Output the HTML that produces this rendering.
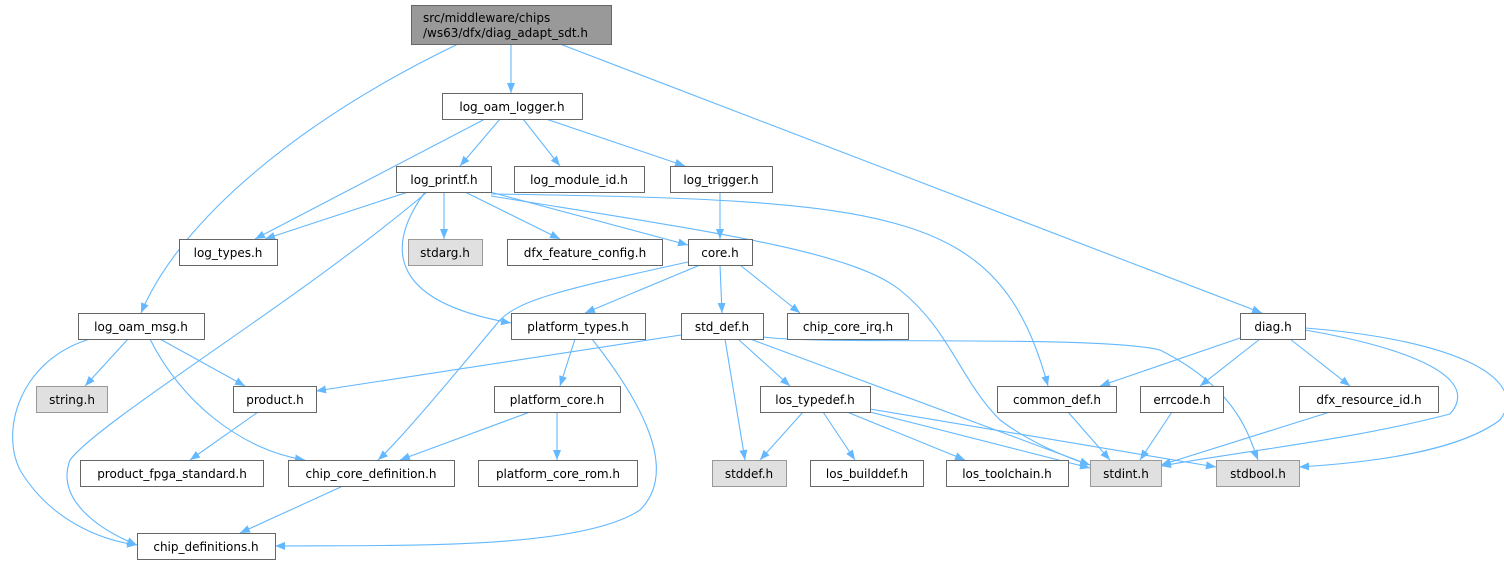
<!DOCTYPE html>
<html><head><meta charset="utf-8"><style>
body{margin:0;background:#fff;width:1504px;height:564px;overflow:hidden}
svg text{font-family:"DejaVu Sans","Liberation Sans",sans-serif;font-size:12px;fill:#000}
</style></head><body>
<svg width="1504" height="564" xmlns="http://www.w3.org/2000/svg">
<defs><marker id="a" markerWidth="11" markerHeight="8" refX="10" refY="4" orient="auto" markerUnits="userSpaceOnUse"><path d="M0,0 L10,4 L0,8 z" fill="#63b8ff"/></marker></defs>
<g fill="none" stroke="#63b8ff" stroke-width="1.1" marker-end="url(#a)">
<path d="M511,44 L511,93"/>
<path d="M458,44 C300,120 180,220 141,313"/>
<path d="M560,44 L1262,313"/>
<path d="M485,119 L255,239"/>
<path d="M500,119 L460,166"/>
<path d="M523,119 L560,166"/>
<path d="M546,119 L685,166"/>
<path d="M408,192 L265,239"/>
<path d="M427,192 C300,300 100,420 70,460 C55,500 100,530 137,545"/>
<path d="M425,192 C390,240 380,300 511,323"/>
<path d="M444,192 L444,239"/>
<path d="M465,192 L560,239"/>
<path d="M490,192 L688,245"/>
<path d="M491,194 C900,200 1000,210 1048,386"/>
<path d="M491,196 C700,230 850,250 900,290 C950,330 960,380 1000,420 C1040,450 1090,465 1090,465"/>
<path d="M720,192 L720,239"/>
<path d="M688,262 C560,290 520,300 500,320 C450,380 400,440 378,460"/>
<path d="M700,265 L585,313"/>
<path d="M720,265 L722,313"/>
<path d="M740,265 L800,313"/>
<path d="M128,339 L85,386"/>
<path d="M160,339 L245,386"/>
<path d="M150,339 C180,400 240,450 305,460"/>
<path d="M90,339 C20,360 0,430 20,470 C50,520 100,540 137,545"/>
<path d="M575,339 L560,386"/>
<path d="M592,339 C640,400 680,470 640,510 C580,550 400,545 275,546"/>
<path d="M681,335 L316,391"/>
<path d="M725,339 L745,460"/>
<path d="M738,339 L790,386"/>
<path d="M750,339 L1090,465"/>
<path d="M763,337 C820,345 1100,335 1160,350 C1240,390 1250,440 1258,460"/>
<path d="M530,412 L400,460"/>
<path d="M557,412 L557,460"/>
<path d="M258,412 L190,460"/>
<path d="M343,486 L240,533"/>
<path d="M803,412 L760,460"/>
<path d="M823,412 L855,460"/>
<path d="M847,412 L965,460"/>
<path d="M870,412 L1090,468"/>
<path d="M870,409 L1216,467"/>
<path d="M1068,412 L1110,460"/>
<path d="M1172,412 L1140,460"/>
<path d="M1330,412 L1161,465"/>
<path d="M1243,337 L1100,386"/>
<path d="M1260,339 L1200,386"/>
<path d="M1290,339 L1350,386"/>
<path d="M1305,330 C1420,350 1480,380 1450,414 C1350,440 1250,450 1161,466"/>
<path d="M1305,328 C1460,340 1530,380 1500,420 C1460,450 1380,462 1299,467"/>
</g>
<g stroke="#666" stroke-width="1">
<rect x="411.5" y="5.5" width="200" height="39" fill="#999"/>
<g fill="#fff">
<rect x="442.5" y="93.5" width="140" height="26"/>
<rect x="396.5" y="166.5" width="95" height="26"/>
<rect x="514.5" y="166.5" width="130" height="26"/>
<rect x="670.5" y="166.5" width="102" height="26"/>
<rect x="179.5" y="239.5" width="98" height="26"/>
<rect x="507.5" y="239.5" width="155" height="26"/>
<rect x="688.5" y="239.5" width="64" height="26"/>
<rect x="78.5" y="313.5" width="126" height="26"/>
<rect x="511.5" y="313.5" width="134" height="26"/>
<rect x="681.5" y="313.5" width="82" height="26"/>
<rect x="787.5" y="313.5" width="121" height="26"/>
<rect x="1240.5" y="313.5" width="65" height="26"/>
<rect x="233.5" y="386.5" width="83" height="26"/>
<rect x="494.5" y="386.5" width="126" height="26"/>
<rect x="760.5" y="386.5" width="110" height="26"/>
<rect x="997.5" y="386.5" width="119" height="26"/>
<rect x="1140.5" y="386.5" width="83" height="26"/>
<rect x="1299.5" y="386.5" width="139" height="26"/>
<rect x="80.5" y="460.5" width="183" height="26"/>
<rect x="288.5" y="460.5" width="166" height="26"/>
<rect x="478.5" y="460.5" width="159" height="26"/>
<rect x="810.5" y="460.5" width="113" height="26"/>
<rect x="946.5" y="460.5" width="122" height="26"/>
<rect x="137.5" y="533.5" width="138" height="26"/>
</g>
<g fill="#e0e0e0" stroke="#999">
<rect x="408.5" y="239.5" width="74" height="26"/>
<rect x="36.5" y="386.5" width="71" height="26"/>
<rect x="712.5" y="460.5" width="74" height="26"/>
<rect x="1090.5" y="460.5" width="71" height="26"/>
<rect x="1216.5" y="460.5" width="83" height="26"/>
</g>
</g>
<g text-anchor="middle">
<text x="511" y="22" text-anchor="start" transform="translate(-88,0)">src/middleware/chips</text>
<text x="423" y="37" text-anchor="start">/ws63/dfx/diag_adapt_sdt.h</text>
<text x="512" y="111">log_oam_logger.h</text>
<text x="444" y="184">log_printf.h</text>
<text x="579" y="184">log_module_id.h</text>
<text x="721" y="184">log_trigger.h</text>
<text x="228" y="257">log_types.h</text>
<text x="445" y="257">stdarg.h</text>
<text x="585" y="257">dfx_feature_config.h</text>
<text x="720" y="257">core.h</text>
<text x="141" y="331">log_oam_msg.h</text>
<text x="578" y="331">platform_types.h</text>
<text x="722" y="331">std_def.h</text>
<text x="848" y="331">chip_core_irq.h</text>
<text x="1273" y="331">diag.h</text>
<text x="72" y="404">string.h</text>
<text x="275" y="404">product.h</text>
<text x="557" y="404">platform_core.h</text>
<text x="815" y="404">los_typedef.h</text>
<text x="1057" y="404">common_def.h</text>
<text x="1182" y="404">errcode.h</text>
<text x="1369" y="404">dfx_resource_id.h</text>
<text x="172" y="478">product_fpga_standard.h</text>
<text x="371" y="478">chip_core_definition.h</text>
<text x="558" y="478">platform_core_rom.h</text>
<text x="749" y="478">stddef.h</text>
<text x="867" y="478">los_builddef.h</text>
<text x="1007" y="478">los_toolchain.h</text>
<text x="1126" y="478">stdint.h</text>
<text x="1258" y="478">stdbool.h</text>
<text x="206" y="551">chip_definitions.h</text>
</g>
</svg>
</body></html>
